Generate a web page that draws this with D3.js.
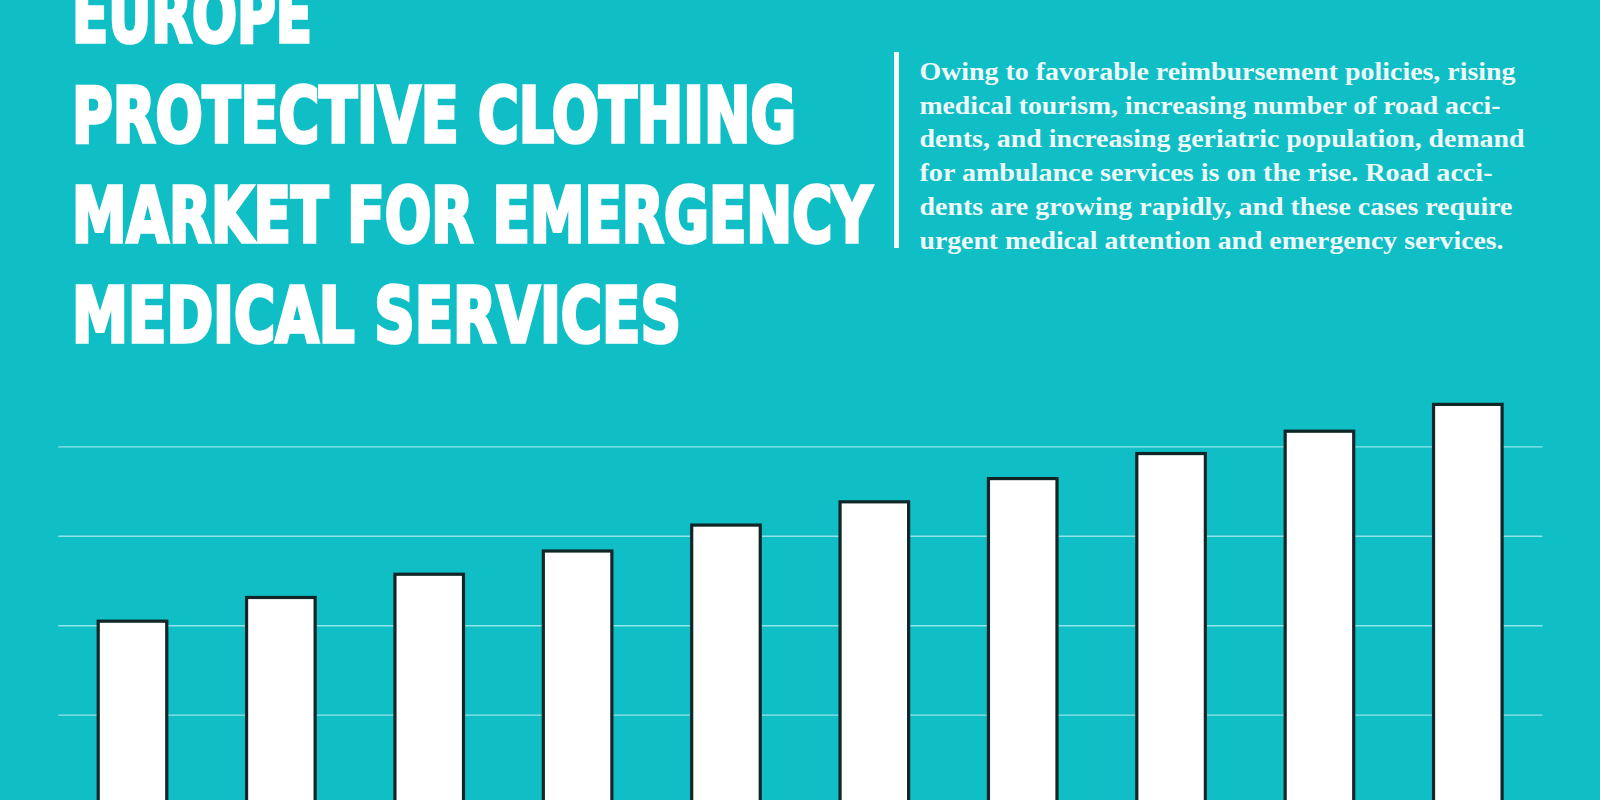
<!DOCTYPE html>
<html>
<head>
<meta charset="utf-8">
<script src="https://cdn.jsdelivr.net/npm/d3@7"></script>
<style>
  html, body { margin: 0; padding: 0; background: #10bec6; overflow: hidden; }
  svg { display: block; }
</style>
</head>
<body>
<svg id="chart" width="1600" height="800"></svg>
<script>
// ---- data ----
const categories = ["2019", "2020", "2021", "2022", "2023", "2024", "2025", "2026", "2027", "2028"];
const values = [2.045, 2.31, 2.57, 2.83, 3.12, 3.38, 3.64, 3.92, 4.17, 4.47];
const gridValues = [1, 2, 3, 4];
const titleLines = ["EUROPE", "PROTECTIVE CLOTHING", "MARKET FOR EMERGENCY", "MEDICAL SERVICES"];
const bodyLines = [
  "Owing to favorable reimbursement policies, rising",
  "medical tourism, increasing number of road acci-",
  "dents, and increasing geriatric population, demand",
  "for ambulance services is on the rise. Road acci-",
  "dents are growing rapidly, and these cases require",
  "urgent medical attention and emergency services."
];

// ---- layout ----
const W = 1600, H = 800;
const svg = d3.select("#chart");
svg.append("rect").attr("width", W).attr("height", H).attr("fill", "#10bec6");

const x = d3.scaleBand().domain(categories).range([58.3, 1542]).paddingInner(0.538).paddingOuter(0.269);
const y = d3.scaleLinear().domain([0, 5]).range([804, 357]);

// gridlines
const grid = svg.append("g").attr("transform", `translate(${58.3},0)`)
  .call(d3.axisLeft(y).tickValues(gridValues).tickSize(-(1542.5 - 58.3)).tickFormat(""));
grid.select(".domain").remove();
grid.selectAll(".tick line").attr("stroke", "#8fe4e7").attr("stroke-width", 1.4);

// bars
svg.append("g").selectAll("rect").data(values).join("rect")
  .attr("x", (d, i) => x(categories[i]))
  .attr("width", x.bandwidth())
  .attr("y", d => y(d))
  .attr("height", d => y(0) - y(d) + 10)
  .attr("fill", "#ffffff")
  .attr("stroke", "#112626")
  .attr("stroke-width", 3.2);

// title
const titleWidths = [240, 724, 800, 609];
svg.append("g").selectAll("text").data(titleLines).join("text")
  .attr("x", 72)
  .attr("y", (d, i) => 42 + i * 100)
  .attr("font-family", "'Liberation Sans Narrow', 'DejaVu Sans Condensed', 'Arial Narrow', sans-serif")
  .attr("font-weight", "bold")
  .attr("font-size", 77)
  .attr("fill", "#ffffff")
  .attr("stroke", "#ffffff")
  .attr("stroke-width", 3.5)
  .attr("stroke-linejoin", "miter")
  .attr("textLength", (d, i) => titleWidths[i])
  .attr("lengthAdjust", "spacingAndGlyphs")
  .text(d => d);

// vertical divider
svg.append("rect").attr("x", 894).attr("y", 52).attr("width", 5).attr("height", 196).attr("fill", "#f4fcfc");

// paragraph
const bodyWidths = [596, 581, 605, 573, 593, 584];
svg.append("g").selectAll("text").data(bodyLines).join("text")
  .attr("x", 919.5)
  .attr("y", (d, i) => 80 + i * 33.7)
  .attr("font-family", "'Liberation Serif', 'Times New Roman', serif")
  .attr("font-weight", "bold")
  .attr("font-size", 25.5)
  .attr("fill", "#eefafa")
  .attr("textLength", (d, i) => bodyWidths[i])
  .attr("lengthAdjust", "spacingAndGlyphs")
  .text(d => d);
</script>
</body>
</html>
